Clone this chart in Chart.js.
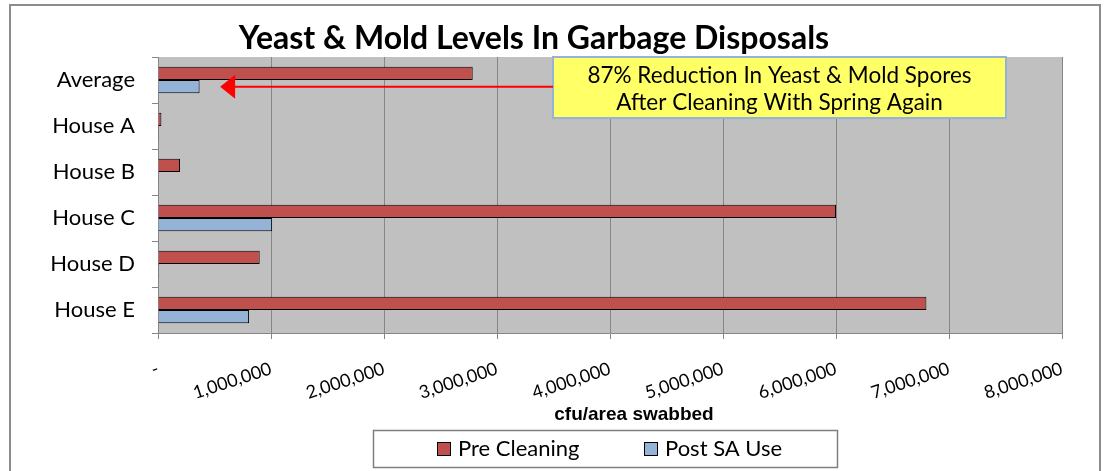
<!DOCTYPE html>
<html>
<head>
<meta charset="utf-8">
<script src="https://cdn.jsdelivr.net/npm/chart.js@4.4.1/dist/chart.umd.min.js"></script>
<style>
  html, body { margin: 0; padding: 0; background: #fff; }
</style>
</head>
<body>
<canvas id="chart" width="1107" height="471"></canvas>
<script>
const categories = ['Average', 'House A', 'House B', 'House C', 'House D', 'House E'];
const preCleaning = [2785000, 30000, 195000, 6000000, 900000, 6800000];
const postSAUse = [368000, 8000, 7000, 1010000, 10000, 806000];
const seriesNames = ['Pre Cleaning', 'Post SA Use'];
const seriesColors = ['#C0504D', '#95B3D7'];
const xMax = 8000000;
const xStep = 1000000;
const chartTitle = 'Yeast & Mold Levels In Garbage Disposals';
const xAxisTitle = 'cfu/area swabbed';
const noteLines = ['87% Reduction In Yeast & Mold Spores', 'After Cleaning With Spring Again'];
const arrowTipValue = 550000;

const FONT = 'Lato, "Open Sans", sans-serif';
const GRID = '#868686';

// background, frame, title, legend, note box
const decorations = {
  id: 'decorations',
  beforeDraw(chart) {
    const { ctx, chartArea: a } = chart;
    ctx.save();
    ctx.fillStyle = '#fff';
    ctx.fillRect(0, 0, chart.width, chart.height);
    ctx.fillStyle = '#C0C0C0';
    ctx.fillRect(a.left, a.top, a.right - a.left, a.bottom - a.top);
    ctx.restore();
  },
  afterDraw(chart) {
    const { ctx, chartArea: a } = chart;
    ctx.save();

    // outer frame
    ctx.strokeStyle = '#8C8C8C';
    ctx.lineWidth = 2;
    ctx.strokeRect(10, 5, 1090, 480);

    // title
    ctx.fillStyle = '#000';
    ctx.font = 'bold 32px ' + FONT;
    ctx.textAlign = 'center';
    ctx.textBaseline = 'alphabetic';
    ctx.fillText(chartTitle, 534, 49);

    // x axis title
    ctx.font = 'bold 19px "Liberation Sans", Arial, sans-serif';
    ctx.fillText(xAxisTitle, 634, 420);

    // legend
    const lx = 373, ly = 430, lw = 464, lh = 37;
    ctx.strokeStyle = '#7F7F7F';
    ctx.lineWidth = 1.5;
    ctx.strokeRect(lx + 0.5, ly + 0.5, lw, lh);
    ctx.font = '22px ' + FONT;
    ctx.textAlign = 'left';
    ctx.textBaseline = 'middle';
    const itemX = [437, 644];
    chart.data.datasets.forEach((ds, i) => {
      ctx.fillStyle = ds.backgroundColor;
      ctx.fillRect(itemX[i], 442, 13, 13);
      ctx.strokeStyle = '#000';
      ctx.lineWidth = 1;
      ctx.strokeRect(itemX[i] + 0.5, 442.5, 13, 13);
      ctx.fillStyle = '#000';
      ctx.fillText(ds.label, itemX[i] + 21, 449);
    });

    // note box
    const bx = 553, by = a.top, bw = 453, bh = 61;
    ctx.fillStyle = '#FFFF66';
    ctx.fillRect(bx, by, bw, bh);
    ctx.strokeStyle = '#95B3D7';
    ctx.lineWidth = 2;
    ctx.strokeRect(bx, by, bw, bh);
    ctx.fillStyle = '#000';
    ctx.textAlign = 'center';
    ctx.font = '22.5px ' + FONT;
    ctx.fillText(noteLines[0], bx + bw / 2, by + 19);
    ctx.fillText(noteLines[1], bx + bw / 2, by + 46);

    // arrow to the Average post bar
    const y = chart.getDatasetMeta(1).data[0].y;
    const tip = chart.scales.x.getPixelForValue(arrowTipValue);
    ctx.strokeStyle = '#FF0000';
    ctx.fillStyle = '#FF0000';
    ctx.lineWidth = 2;
    ctx.beginPath();
    ctx.moveTo(bx, y);
    ctx.lineTo(tip + 12, y);
    ctx.stroke();
    ctx.beginPath();
    ctx.moveTo(tip, y);
    ctx.lineTo(tip + 15, y - 12);
    ctx.lineTo(tip + 15, y + 12);
    ctx.closePath();
    ctx.fill();

    ctx.restore();
  }
};

new Chart(document.getElementById('chart'), {
  type: 'bar',
  data: {
    labels: categories,
    datasets: [
      {
        label: seriesNames[0],
        data: preCleaning,
        backgroundColor: seriesColors[0],
        borderColor: '#000',
        borderWidth: 1,
        categoryPercentage: 0.58,
        barPercentage: 1
      },
      {
        label: seriesNames[1],
        data: postSAUse,
        backgroundColor: seriesColors[1],
        borderColor: '#000',
        borderWidth: 1,
        categoryPercentage: 0.58,
        barPercentage: 1
      }
    ]
  },
  options: {
    indexAxis: 'y',
    responsive: false,
    animation: false,
    devicePixelRatio: 1,
    layout: { padding: { top: 57, right: 45, bottom: 0, left: 0 } },
    plugins: {
      legend: { display: false },
      title: { display: false },
      tooltip: { enabled: false }
    },
    scales: {
      x: {
        min: 0,
        max: xMax,
        ticks: {
          stepSize: xStep,
          color: '#000',
          font: { family: FONT, size: 18 },
          minRotation: 18,
          maxRotation: 18,
          padding: 19,
          callback: v => v === 0 ? '-' : v.toLocaleString('en-US')
        },
        grid: { color: GRID, lineWidth: 1, tickLength: 6, tickColor: GRID },
        border: { color: GRID, width: 1 },
        afterFit: s => { s.height = 138; }
      },
      y: {
        ticks: {
          color: '#000',
          font: { family: FONT, size: 22 },
          padding: 17
        },
        grid: { drawOnChartArea: false, tickLength: 6, color: GRID, offset: true },
        border: { color: GRID, width: 1 },
        afterFit: s => { s.width = 158; }
      }
    }
  },
  plugins: [decorations]
});
</script>
</body>
</html>
